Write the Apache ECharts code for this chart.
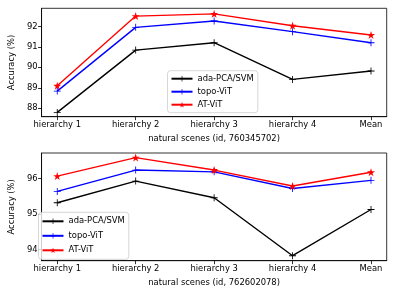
<!DOCTYPE html>
<html><head><meta charset="utf-8">
<script src="https://cdn.jsdelivr.net/npm/echarts@6/dist/echarts.min.js"></script>
<style>html,body{margin:0;padding:0;background:#fff}#c{width:396px;height:297px}</style>
</head><body><div id="c"></div>
<script>
const categories = ['hierarchy 1','hierarchy 2','hierarchy 3','hierarchy 4','Mean'];
const seriesNames = ['ada-PCA/SVM','topo-ViT','AT-ViT'];
const top_ada  = [87.80, 90.84, 91.20, 89.41, 89.82];
const top_topo = [88.84, 91.95, 92.26, 91.74, 91.20];
const top_at   = [89.10, 92.50, 92.61, 92.03, 91.58];
const bot_ada  = [95.32, 95.93, 95.46, 93.83, 95.13];
const bot_topo = [95.64, 96.24, 96.19, 95.72, 95.95];
const bot_at   = [96.07, 96.59, 96.24, 95.79, 96.18];
const topYTicks = [88, 89, 90, 91, 92];
const botYTicks = [94, 95, 96];
const topXLabel = 'natural scenes (id, 760345702)';
const botXLabel = 'natural scenes (id, 762602078)';
const yLabel = 'Accuracy (%)';

const FONT = 'DejaVu Sans';
const FS = 8.4;
const colors = ['#000000', '#0000ff', '#ff0000'];
const plus = 'path://M-0.12,-1 L0.12,-1 L0.12,-0.12 L1,-0.12 L1,0.12 L0.12,0.12 L0.12,1 L-0.12,1 L-0.12,0.12 L-1,0.12 L-1,-0.12 L-0.12,-0.12 Z';
const star = 'path://M0,-1 L0.2245,-0.309 L0.9511,-0.309 L0.3633,0.118 L0.5878,0.809 L0,0.382 L-0.5878,0.809 L-0.3633,0.118 L-0.9511,-0.309 L-0.2245,-0.309 Z';
const symbols = [plus, plus, star];
const xIdx = categories.map((_, i) => i);

function mkX(gi, name) {
  return {
    type: 'value', gridIndex: gi, min: -0.2, max: 4.2,
    name: name, nameLocation: 'middle', nameGap: 18.5,
    nameTextStyle: {fontFamily: FONT, fontSize: FS, color: '#000'},
    axisLine: {show: true, onZero: false, lineStyle: {color: '#000', width: 0.8}},
    axisTick: {show: true, length: 3.5, customValues: xIdx, lineStyle: {color: '#000', width: 0.8}},
    axisLabel: {customValues: xIdx, margin: 4.5, fontFamily: FONT, fontSize: FS, color: '#000',
      formatter: v => categories[Math.round(v)]},
    splitLine: {show: false}
  };
}
function mkY(gi, min, max, ticks) {
  return {
    type: 'value', gridIndex: gi, min: min, max: max,
    name: yLabel, nameLocation: 'middle', nameGap: 21, nameRotate: 90,
    nameTextStyle: {fontFamily: FONT, fontSize: FS, color: '#000'},
    axisLine: {show: true, onZero: false, lineStyle: {color: '#000', width: 0.8}},
    axisTick: {show: true, length: 3.5, customValues: ticks, lineStyle: {color: '#000', width: 0.8}},
    axisLabel: {customValues: ticks, margin: 4, fontFamily: FONT, fontSize: FS, color: '#000'},
    splitLine: {show: false}
  };
}
function mkSeries(gi, arr, k) {
  return {
    type: 'line', name: seriesNames[k], xAxisIndex: gi, yAxisIndex: gi,
    data: arr.map((v, i) => [i, v]),
    symbol: symbols[k], symbolSize: k === 2 ? 8 : 7, showSymbol: true,
    lineStyle: {color: colors[k], width: 1.4},
    itemStyle: {color: colors[k]},
    animation: false, z: 3 + k
  };
}
function mkLegend(left, top, gap, pad) {
  return {
    orient: 'vertical', left: left, top: top,
    data: seriesNames, itemWidth: 21, itemHeight: 7, itemGap: gap,
    padding: pad,
    backgroundColor: 'rgba(255,255,255,0.8)', borderColor: '#cccccc', borderWidth: 0.8, borderRadius: 3,
    textStyle: {fontFamily: FONT, fontSize: FS, color: '#000', padding: [0, 0, 0, 0]},
    selectedMode: false
  };
}

const chart = echarts.init(document.getElementById('c'), null, {renderer: 'canvas'});
chart.setOption({
  backgroundColor: '#fff',
  animation: false,
  grid: [
    {left: 38, right: 9.3, top: 8.3, bottom: 180.3, show: true, borderColor: '#000', borderWidth: 0.8, backgroundColor: 'transparent'},
    {left: 38, right: 9.3, top: 153, bottom: 36.3, show: true, borderColor: '#000', borderWidth: 0.8, backgroundColor: 'transparent'}
  ],
  legend: [mkLegend(167.5, 70.7, 5, [4, 4, 4, 3]), mkLegend(38.5, 212.3, 6.5, [5, 4, 5, 3])],
  xAxis: [mkX(0, topXLabel), mkX(1, botXLabel)],
  yAxis: [mkY(0, 87.59, 92.88, topYTicks), mkY(1, 93.69, 96.72, botYTicks)],
  series: [
    mkSeries(0, top_ada, 0), mkSeries(0, top_topo, 1), mkSeries(0, top_at, 2),
    mkSeries(1, bot_ada, 0), mkSeries(1, bot_topo, 1), mkSeries(1, bot_at, 2)
  ]
});
</script></body></html>
